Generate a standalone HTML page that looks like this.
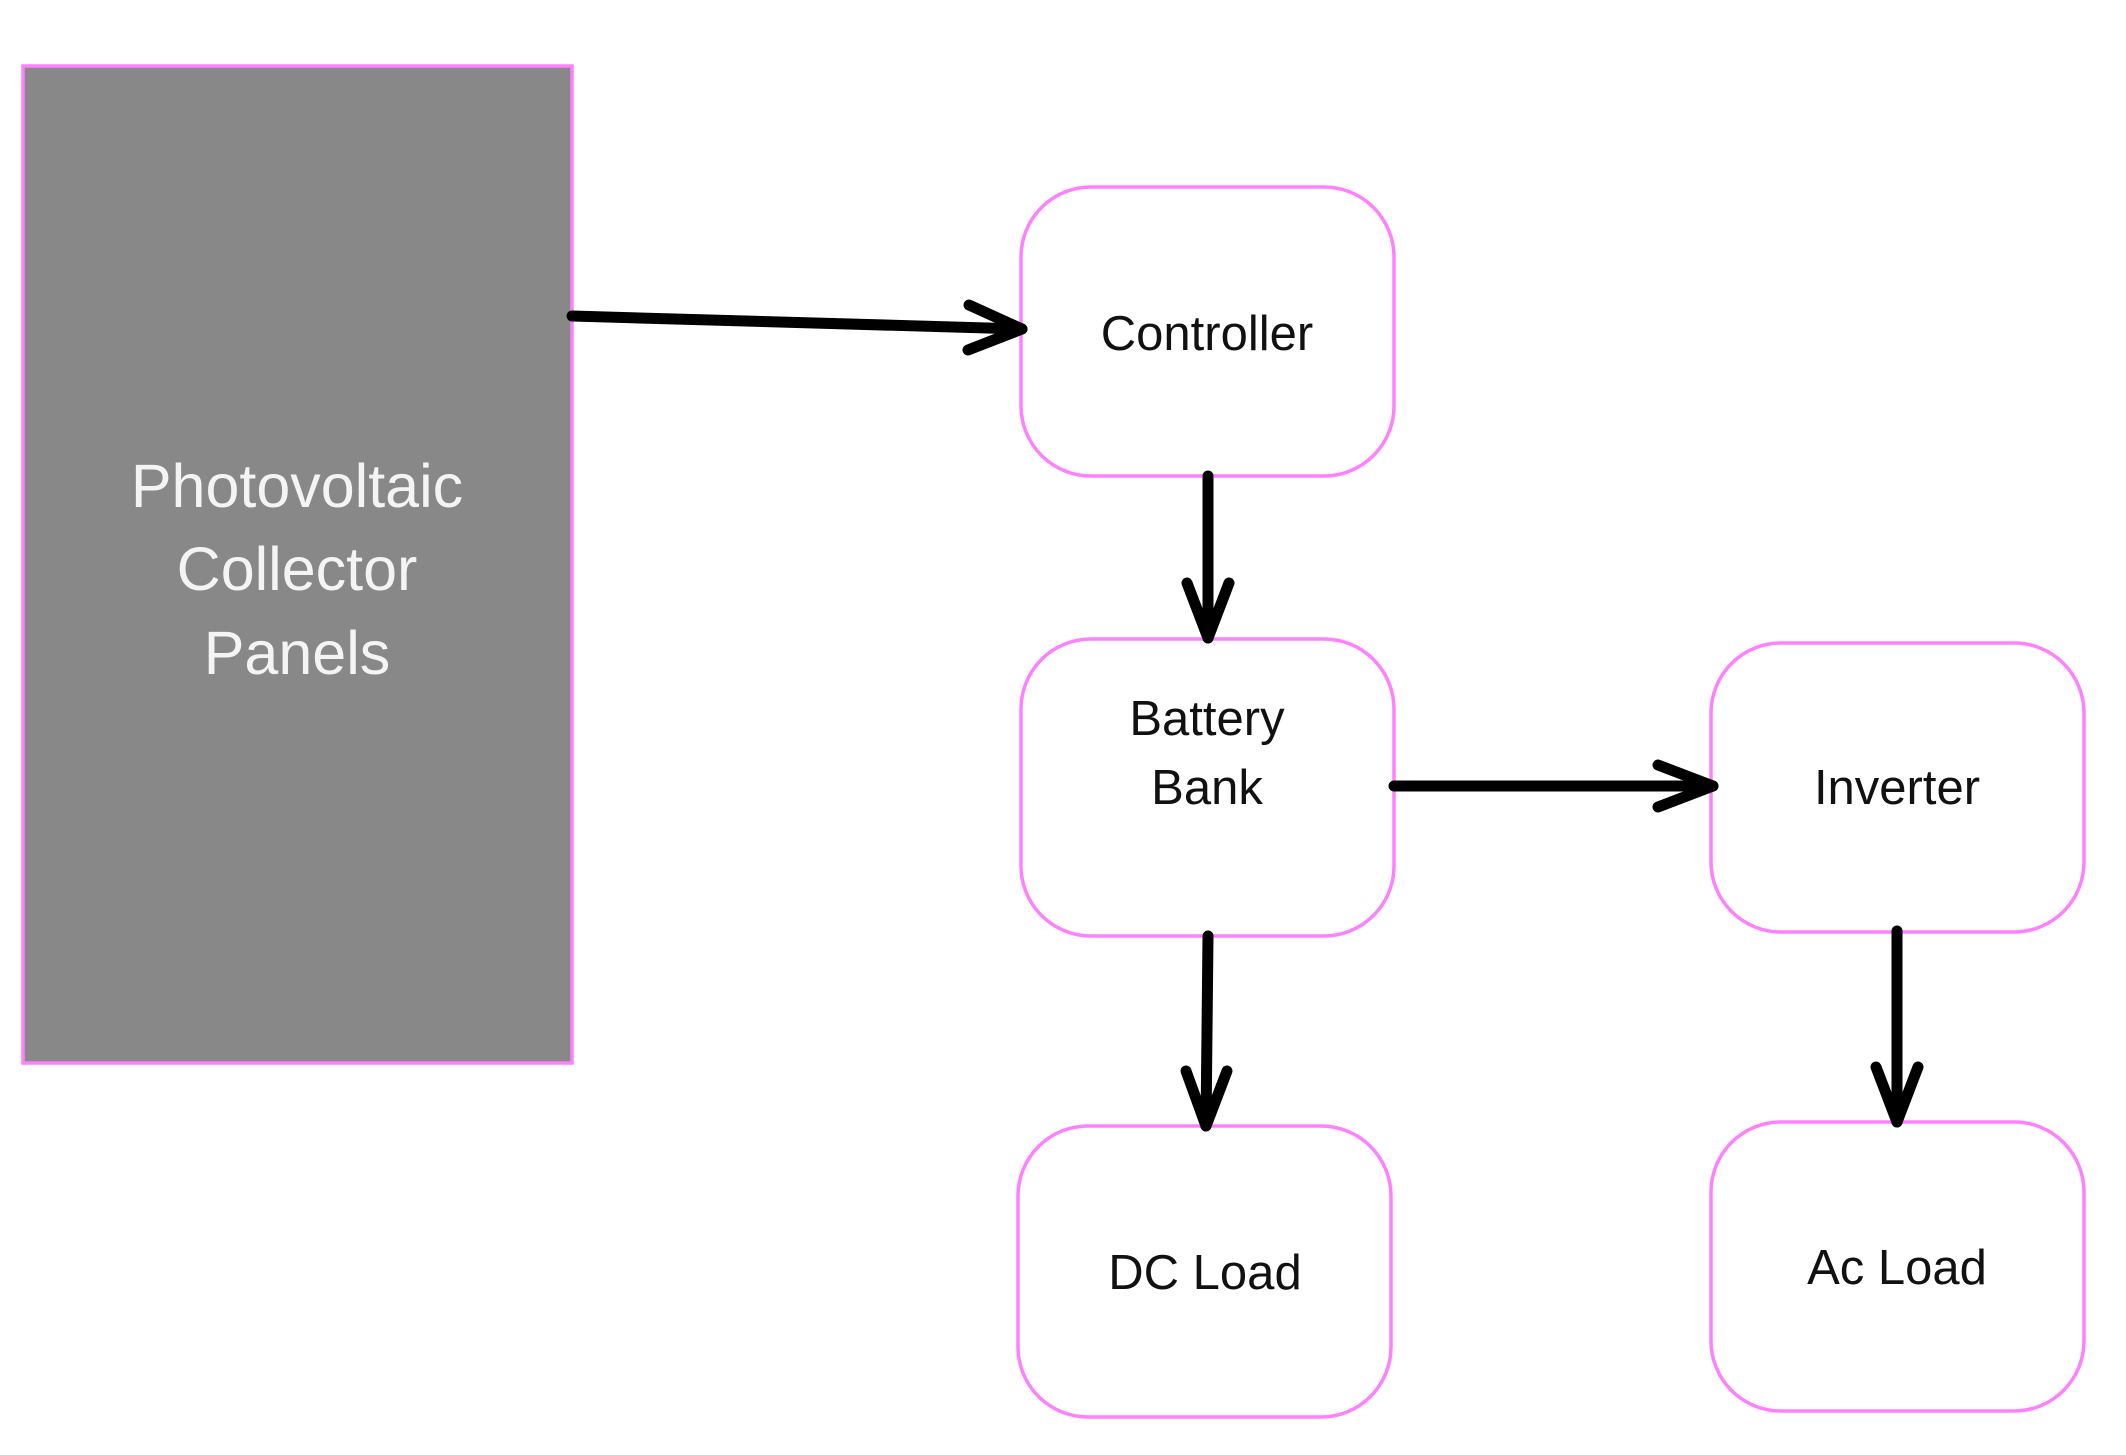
<!DOCTYPE html>
<html><head><style>
html,body{margin:0;padding:0;background:#fff;}
svg{display:block;}
text{font-family:"Liberation Sans",Arial,sans-serif;}
</style></head><body>
<svg width="2126" height="1455" viewBox="0 0 2126 1455" xmlns="http://www.w3.org/2000/svg">
<rect x="0" y="0" width="2126" height="1455" fill="#fff"/>
<rect x="23" y="66" width="549" height="997" fill="#888" stroke="#ff80ff" stroke-width="3.5"/>
<g font-size="61" fill="#f4f4f4" text-anchor="middle">
<text x="297" y="507">Photovoltaic</text>
<text x="297" y="590">Collector</text>
<text x="297" y="674">Panels</text>
</g>
<g fill="#fff" stroke="#ff80ff" stroke-width="3.5">
<rect x="1021" y="187" width="373" height="289" rx="70"/>
<rect x="1021" y="639" width="373" height="297" rx="70"/>
<rect x="1711" y="643" width="373" height="289" rx="70"/>
<rect x="1018" y="1126" width="373" height="291" rx="70"/>
<rect x="1711" y="1122" width="373" height="289" rx="70"/>
</g>
<g font-size="49" fill="#111" text-anchor="middle">
<text x="1207" y="350">Controller</text>
<text x="1207" y="735">Battery</text>
<text x="1207" y="804">Bank</text>
<text x="1897" y="804">Inverter</text>
<text x="1205" y="1289">DC Load</text>
<text x="1897" y="1284">Ac Load</text>
</g>
<g stroke="#000" stroke-width="11" stroke-linecap="round" stroke-linejoin="round" fill="none">
<path d="M572 316 L1022 329"/>
<path d="M969 305 L1022 329 L968 350"/>
<path d="M1208 476 L1208 638"/>
<path d="M1187 583 L1208 638 L1229 583"/>
<path d="M1394 786 L1713 786"/>
<path d="M1658 765 L1713 786 L1658 807"/>
<path d="M1208 936 L1206 1126"/>
<path d="M1186 1071 L1206 1126 L1227 1071"/>
<path d="M1897 931 L1897 1122"/>
<path d="M1876 1067 L1897 1122 L1918 1067"/>
</g>
</svg>
</body></html>
